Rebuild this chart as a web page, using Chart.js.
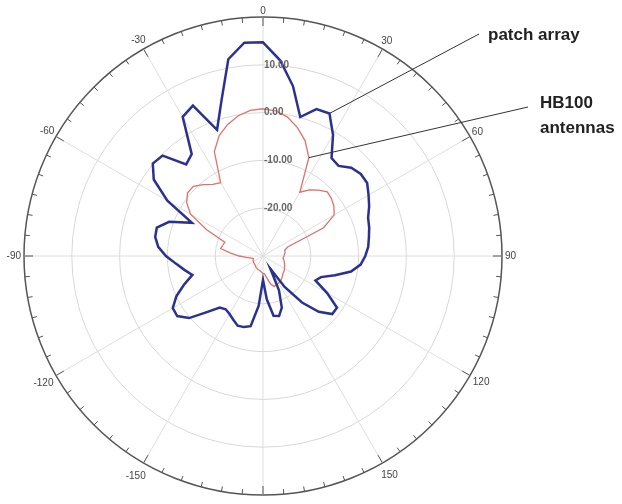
<!DOCTYPE html>
<html>
<head>
<meta charset="utf-8">
<script src="https://cdn.jsdelivr.net/npm/chart.js@4"></script>
<style>
  html, body { margin: 0; padding: 0; background: #fff; overflow: hidden; }
</style>
</head>
<body>
<canvas id="polarCanvas" width="622" height="504"></canvas>
<script>
// azimuth in degrees, clockwise from top
const angles = [0, 5, 10, 15, 20, 25, 30, 35, 40, 45, 50, 55, 60, 65, 70, 75, 80, 85,
    90, 95, 100, 105, 110, 115, 120, 125, 130, 135, 140, 145, 150, 155, 160, 165, 170, 175,
    180, 185, 190, 195, 200, 205, 210, 215, 220, 225, 230, 235, 240, 245, 250, 255, 260, 265,
    270, 275, 280, 285, 290, 295, 300, 305, 310, 315, 320, 325, 330, 335, 340, 345, 350, 355];

// dB
const patchArray = [14.7, 11.1, 6.1, 0.1, 2.7, 2.9, -0.7, -5.0, -5.4, -3.9, -3.3, -3.4,
    -4.5, -5.5, -6.6, -7.0, -7.5, -7.9, -8.6, -9.5, -11.3, -14.4, -17.1, -17.9,
    -14.5, -11.1, -11.1, -13.5, -17.3, -22.1, -26.9, -22.1, -18.5, -17.0, -17.3, -20.9,
    -25.0, -19.5, -15.1, -14.6, -14.5, -15.3, -16.0, -16.4, -15.9, -13.4, -9.8, -8.1,
    -8.2, -10.0, -12.4, -14.7, -13.3, -11.7, -9.7, -8.0, -7.1, -7.0, -9.1, -13.6,
    -6.9, -2.1, 0.1, -0.3, -5.0, -4.0, 3.6, 4.7, -1.9, 3.6, 11.8, 14.8];

const hb100 = [0.8, 0.5, -0.5, -2.2, -4.3, -7.3, -14.6, -13.1, -12.0, -11.0, -11.3, -11.9,
    -12.8, -16.0, -24.5, -25.3, -25.3, -25.5, -25.6, -25.8, -25.6, -25.4, -25.2, -25.0,
    -24.8, -24.6, -24.5, -24.2, -23.9, -23.6, -23.5, -23.4, -23.2, -24.0, -25.3, -26.2,
    -26.4, -26.6, -26.8, -26.9, -27.0, -27.1, -27.2, -27.3, -27.5, -27.5, -27.6, -27.6,
    -27.7, -27.7, -27.8, -27.9, -27.5, -26.5, -25.0, -23.2, -21.0, -21.3, -21.5, -17.0,
    -12.5, -10.5, -9.4, -9.4, -10.5, -11.7, -12.3, -5.9, -3.2, -1.5, -0.2, 0.6];

const ringLabels = [-20, -10, 0, 10];

// draws the rim ticks, degree labels, ring labels and the two callouts
const decorations = {
    id: "decorations",
    afterDraw(chart) {
        const ctx = chart.ctx;
        const r = chart.scales.r;
        const outer = r.getDistanceFromCenterForValue(r.max);
        ctx.save();

        ctx.strokeStyle = "#555";
        ctx.lineWidth = 1;
        angles.forEach((a, i) => {
            const len = a % 30 === 0 ? 9 : 5;
            const p1 = r.getPointPosition(i, outer);
            const p2 = r.getPointPosition(i, outer - len);
            ctx.beginPath();
            ctx.moveTo(p1.x, p1.y);
            ctx.lineTo(p2.x, p2.y);
            ctx.stroke();
        });

        ctx.font = "10px 'Liberation Sans', Arial, sans-serif";
        ctx.fillStyle = "#444";
        ctx.textAlign = "center";
        ctx.textBaseline = "middle";
        angles.forEach((a, i) => {
            if (a % 30 !== 0) return;
            const txt = String(a <= 180 ? a : a - 360);
            const w = ctx.measureText(txt).width;
            const down = Math.max(0, -Math.cos(a * Math.PI / 180));
            const p = r.getPointPosition(i, outer + 3 + w / 2 + 3 * down);
            ctx.fillText(txt, p.x, p.y);
        });

        ctx.font = "bold 10px 'Liberation Sans', Arial, sans-serif";
        ctx.fillStyle = "#666";
        ctx.textAlign = "left";
        ringLabels.forEach(v => {
            const d = r.getDistanceFromCenterForValue(v);
            ctx.fillText(v.toFixed(2), r.xCenter + 1, r.yCenter - d);
        });

        // callout lines start on the curves at 25 degrees
        const pPatch = chart.getDatasetMeta(0).data[5];
        const pHb = chart.getDatasetMeta(1).data[5];
        ctx.strokeStyle = "#333";
        ctx.lineWidth = 1;
        ctx.beginPath();
        ctx.moveTo(pPatch.x, pPatch.y);
        ctx.lineTo(479, 34);
        ctx.moveTo(pHb.x, pHb.y);
        ctx.lineTo(528, 107);
        ctx.stroke();

        ctx.font = "bold 17px 'Liberation Sans', Arial, sans-serif";
        ctx.fillStyle = "#222";
        ctx.fillText("patch array", 488, 35);
        ctx.fillText("HB100", 540, 103);
        ctx.fillText("antennas", 540, 128);

        ctx.restore();
    }
};

const polarCanvas = document.getElementById("polarCanvas");

const polarChart = new Chart(polarCanvas, {
    type: "radar",
    data: {
        labels: angles,
        datasets: [{
            label: "patch array",
            data: patchArray,
            borderColor: "#2b3190",
            borderWidth: 2.5,
            pointRadius: 0,
            fill: false
        }, {
            label: "HB100 antennas",
            data: hb100,
            borderColor: "#e0716b",
            borderWidth: 1.3,
            pointRadius: 0,
            fill: false
        }]
    },
    options: {
        responsive: false,
        animation: false,
        layout: {
            padding: { left: 24, top: 17, right: 120, bottom: 9 }
        },
        plugins: {
            legend: { display: false },
            tooltip: { enabled: false }
        },
        scales: {
            r: {
                min: -30,
                max: 20,
                ticks: { stepSize: 10, display: false },
                pointLabels: { display: false },
                grid: {
                    circular: true,
                    color: ctx => ctx.tick.value === 20 ? "#555" : "#d8d8d8",
                    lineWidth: ctx => ctx.tick.value === 20 ? 1.5 : 1
                },
                angleLines: {
                    color: "#dedede",
                    lineWidth: ctx => ctx.index % 6 === 0 ? 1 : 0
                }
            }
        }
    },
    plugins: [decorations]
});
</script>
</body>
</html>
